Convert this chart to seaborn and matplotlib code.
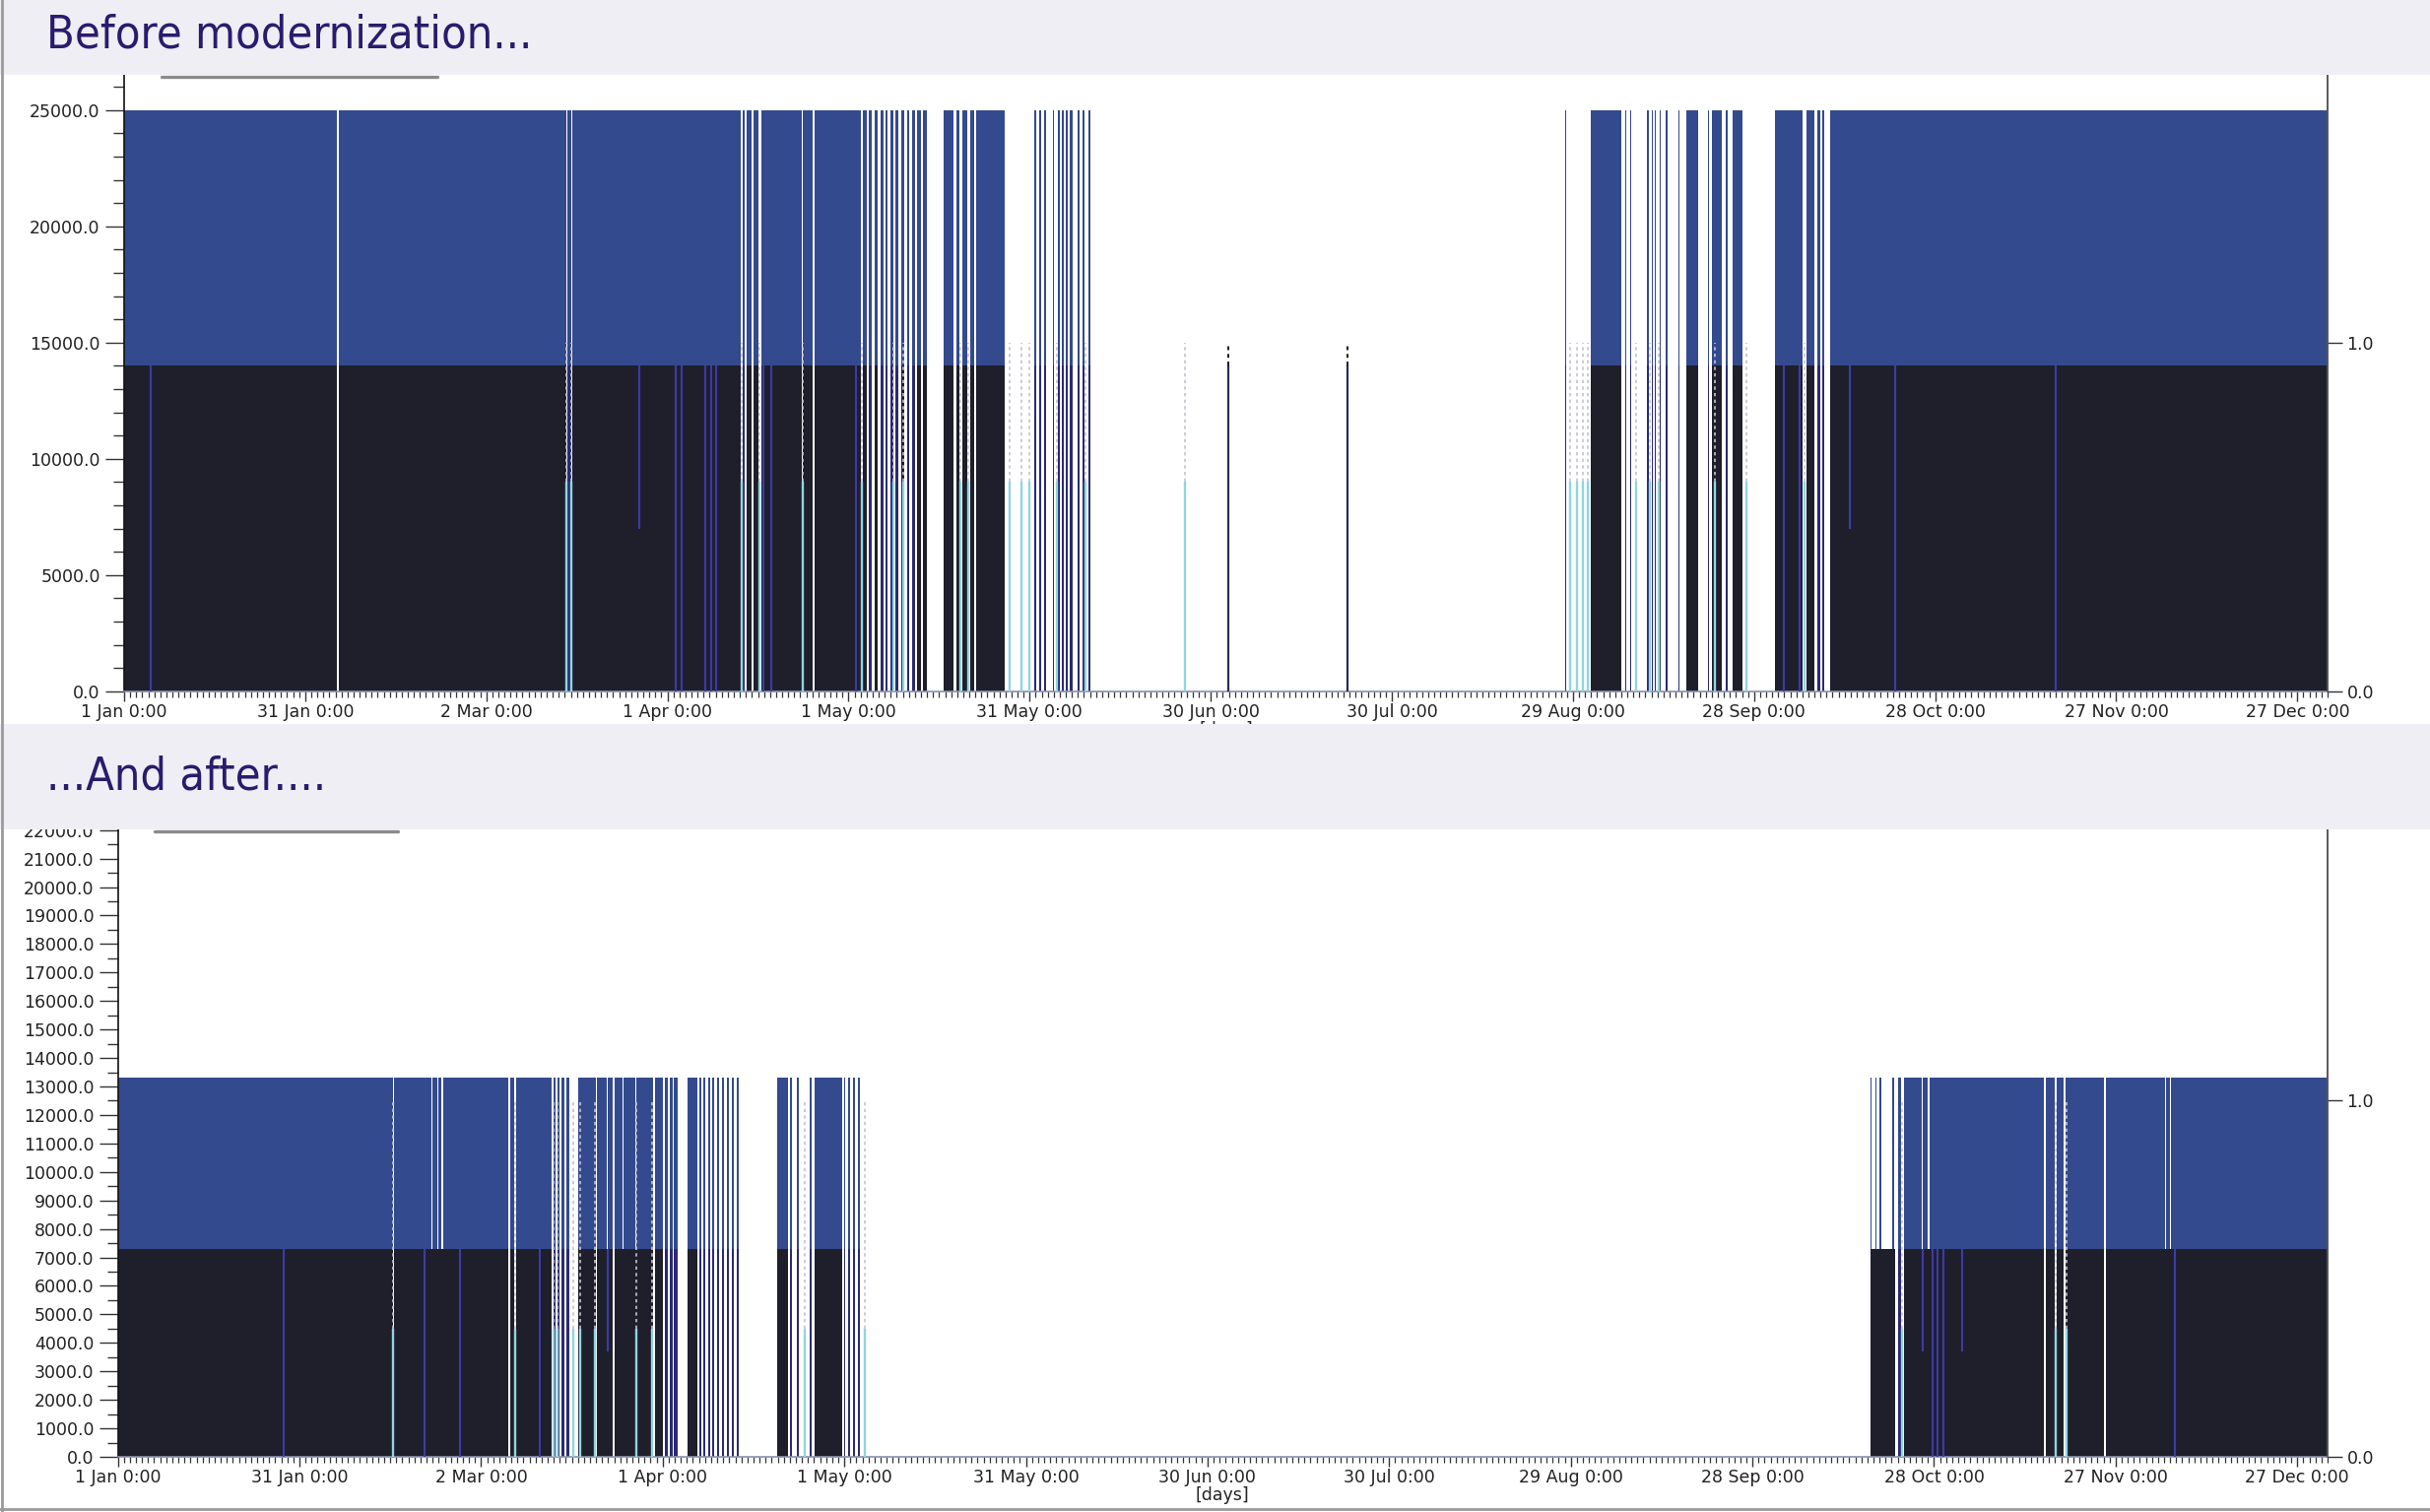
import matplotlib
matplotlib.use("Agg")
import matplotlib.pyplot as plt
import seaborn as sns
from matplotlib.patches import Rectangle
from matplotlib.lines import Line2D
from matplotlib.ticker import MultipleLocator, FixedLocator

# ---------------- data ----------------
month_days = [0, 30, 60, 90, 120, 150, 180, 210, 240, 270, 300, 330, 360]
month_labels = ["1 Jan 0:00", "31 Jan 0:00", "2 Mar 0:00", "1 Apr 0:00", "1 May 0:00",
                "31 May 0:00", "30 Jun 0:00", "30 Jul 0:00", "29 Aug 0:00", "28 Sep 0:00",
                "28 Oct 0:00", "27 Nov 0:00", "27 Dec 0:00"]

titles = ["Before modernization...", "...And after...."]

# "Before" panel: base load level, full load level, operating periods (days)
before_base = 14000
before_top = 25000
before_on = [
    (0.0, 35.25), (35.55, 73.2), (73.45, 74.0), (74.3, 102.2),
    (102.45, 102.8), (103.1, 103.9), (104.2, 105.0), (105.6, 112.2),
    (112.5, 114.0), (114.4, 122.1),
    (122.4, 123.0), (123.4, 123.9), (124.3, 124.9), (125.3, 125.8), (126.2, 126.5),
    (126.9, 127.4), (127.8, 128.3), (128.7, 129.3), (129.7, 130.1), (130.5, 131.0),
    (131.4, 132.0), (132.4, 133.0),
    (135.7, 137.4), (137.8, 138.4), (138.8, 139.7), (140.1, 140.8), (141.2, 145.9),
    (150.8, 151.1), (151.6, 151.9), (152.4, 152.7), (153.8, 154.1), (154.7, 155.0),
    (155.3, 155.6), (156.0, 156.3), (156.6, 157.1), (157.9, 158.2), (158.8, 159.1),
    (159.7, 160.1),
    (238.65, 238.95), (242.9, 248.0), (248.6, 248.9), (249.4, 249.7), (252.3, 252.6),
    (253.0, 253.3), (253.5, 253.8), (254.3, 254.6), (255.3, 255.6), (257.4, 257.7),
    (258.8, 260.8), (262.3, 262.6), (263.0, 264.7), (265.3, 265.6), (266.5, 268.0),
    (273.5, 278.1), (278.7, 280.0), (280.5, 281.0), (281.3, 281.6), (282.6, 365.0),
]
before_top_cuts = []
before_base_only = [182.9, 202.7]
before_purple = [4.4, 91.3, 92.3, 96.3, 97.2, 98.1, 105.9, 107.2, 121.2,
                 274.9, 277.5, 293.4, 320.0]
before_purple_partial = [85.4, 285.9]
before_lightblue = [73.3, 74.15, 102.3, 105.3, 112.35, 122.25, 127.4, 129.0, 138.5,
                    139.9, 146.7, 148.6, 149.9, 154.5, 159.2, 175.8, 239.6, 240.6,
                    241.6, 242.4, 250.5, 252.8, 254.2, 263.5, 268.8, 278.4]

# "After" panel
after_base = 7300
after_top = 13300
after_on = [
    (0.0, 45.4), (45.6, 64.5), (64.75, 65.5), (65.75, 71.6),
    (71.95, 72.3), (72.65, 73.0), (73.35, 73.7), (74.05, 74.6),
    (76.0, 79.0), (79.2, 81.75), (82.0, 88.4),
    (88.7, 90.0), (90.35, 90.8), (91.1, 91.6), (91.9, 92.4),
    (94.1, 95.8), (96.1, 96.4), (96.7, 97.0), (97.5, 97.8), (98.2, 98.5), (99.0, 99.3),
    (99.8, 100.1), (100.6, 100.9), (101.4, 101.7), (102.2, 102.5),
    (108.9, 110.7), (111.0, 111.3), (112.2, 112.5), (114.3, 114.6), (115.1, 119.6),
    (119.9, 120.2), (120.6, 120.9), (121.4, 121.7), (122.2, 122.5),
    (289.5, 293.65), (294.1, 294.5), (295.1, 318.2), (318.45, 319.9), (320.3, 321.4),
    (321.7, 328.1), (328.35, 365.0),
]
after_top_cuts = [(51.8, 52.0), (52.7, 52.9), (53.5, 53.7), (80.8, 81.0), (83.4, 83.6),
                  (85.5, 85.7), (289.75, 290.3), (290.55, 291.05), (291.35, 293.05),
                  (293.35, 293.65), (297.9, 298.1), (299.0, 299.2), (338.1, 338.3),
                  (339.0, 339.2)]
after_base_only = []
after_purple = [27.4, 50.6, 56.5, 69.7, 299.7, 300.5, 301.6, 339.8]
after_purple_partial = [80.9, 298.2, 304.7]
after_lightblue = [45.5, 65.6, 71.9, 72.7, 75.2, 76.3, 78.8, 85.6, 88.2, 113.4, 123.4,
                   294.7, 320.1, 321.9]

# ---------------- style ----------------
W, H = 2467, 1535
DARK = "#1f1f2b"
PULSE_DARK = "#2b2a72"
BLUE = "#344a8e"
PURPLE = "#3d3aa8"
LIGHTBLUE = "#8fd5e0"
BANNER = "#eeeef4"
TITLE_COL = "#2b1b6e"
TXT = "#222222"
TICKFONT = ["DejaVu Sans"]
FS = 12.5

sns.set_theme(style="white")
plt.rcParams["font.family"] = ["DejaVu Sans", "Liberation Sans"]

fig = plt.figure(figsize=(W / 100, H / 100), dpi=100)
fig.patch.set_facecolor("white")


def fx(px):
    return px / W


def fy(py):
    return 1 - py / H


def draw_panel(rect, on, base, top, top_cuts, base_only, purple, purple_partial,
               lightblue, lb_height, lb_dot_top, pp_low, ymax, right_unit,
               y_major, y_minor):
    ax = fig.add_axes(rect)
    ax.set_facecolor("white")
    starts = [a for a, b in on]
    widths = [b - a for a, b in on]
    low_cols = [PULSE_DARK if w < 0.55 else DARK for w in widths]
    ax.bar(starts, [base] * len(on), width=widths, align="edge", color=low_cols,
           linewidth=0, zorder=2)
    ax.bar(starts, [top - base] * len(on), width=widths, bottom=base, align="edge",
           color=BLUE, linewidth=0, zorder=2)
    if top_cuts:
        ax.bar([a for a, b in top_cuts], [top - base] * len(top_cuts),
               width=[b - a for a, b in top_cuts], bottom=base, align="edge",
               color="white", linewidth=0, zorder=3)
    # partial-load markers
    ax.vlines(lightblue, 0, lb_height, colors=LIGHTBLUE, linewidth=1.7, zorder=4)
    ax.vlines(lightblue, lb_height, lb_dot_top, colors="#c4c4ce", linewidth=1.2,
              linestyles=(0, (2, 2)), zorder=4)
    ax.vlines(purple, 0, base, colors=PURPLE, linewidth=1.5, zorder=4)
    ax.vlines(purple_partial, pp_low, base, colors=PURPLE, linewidth=1.5, zorder=4)
    if base_only:
        ax.vlines(base_only, 0, base, colors="#2b2a5a", linewidth=1.6, zorder=4)
        ax.vlines(base_only, base, right_unit, colors="#111111", linewidth=1.4,
                  linestyles=(0, (2, 2)), zorder=4)

    ax.set_xlim(0, 365)
    ax.set_ylim(0, ymax)
    ax.xaxis.set_major_locator(FixedLocator(month_days))
    ax.set_xticklabels(month_labels, family=TICKFONT)
    ax.xaxis.set_minor_locator(MultipleLocator(1))
    ax.yaxis.set_major_locator(MultipleLocator(y_major))
    ax.yaxis.set_minor_locator(MultipleLocator(y_minor))
    ax.yaxis.set_major_formatter(matplotlib.ticker.FuncFormatter(lambda v, p: f"{v:.1f}"))
    ax.tick_params(axis="x", which="major", direction="out", length=7, width=1.0,
                   color="#333333", labelsize=FS, labelcolor=TXT, pad=1.5, bottom=True)
    ax.tick_params(axis="x", which="minor", direction="out", length=4.5, width=0.9,
                   color="#333333", bottom=True)
    ax.tick_params(axis="y", which="major", direction="out", length=14, width=1.0,
                   color="#333333", labelsize=FS, labelcolor=TXT, pad=3.5, left=True)
    ax.tick_params(axis="y", which="minor", direction="out", length=8, width=1.0,
                   color="#333333", left=True)
    ax.spines["top"].set_visible(False)
    ax.spines["left"].set_color("#111111")
    ax.spines["left"].set_linewidth(1.2)
    ax.spines["right"].set_color("#555555")
    ax.spines["right"].set_linewidth(1.1)
    ax.spines["bottom"].set_color("#8a8fb0")
    ax.spines["bottom"].set_linewidth(1.2)
    ax.grid(False)
    ax.set_xlabel("[days]", fontsize=FS, color=TXT, labelpad=0)

    ax2 = ax.twinx()
    ax2.set_ylim(0, ymax / right_unit)
    ax2.set_yticks([0, 1])
    ax2.set_yticklabels(["0.0", "1.0"])
    ax2.tick_params(axis="y", direction="out", length=11, width=1.0, color="#333333",
                    labelsize=FS, labelcolor=TXT, pad=3, right=True)
    for s in ["top", "left", "bottom"]:
        ax2.spines[s].set_visible(False)
    ax2.spines["right"].set_color("#555555")
    ax2.spines["right"].set_linewidth(1.1)
    ax2.grid(False)
    return ax


# top panel geometry (pixels)
top_left, top_right, top_y0, top_ytop = 126, 2363, 701.7, 76
top_ymax = (top_y0 - top_ytop) / ((top_y0 - 111.7) / before_top)
draw_panel([fx(top_left), fy(top_y0), fx(top_right - top_left), (top_y0 - top_ytop) / H],
           before_on, before_base, before_top, before_top_cuts, before_base_only,
           before_purple, before_purple_partial, before_lightblue, 9000, 15000, 7000,
           top_ymax, 15000, 5000, 1000)

bot_left, bot_right, bot_y0, bot_ytop = 119.6, 2363, 1479, 842
bot_scale = (bot_y0 - 842.7) / 22000
bot_ymax = (bot_y0 - bot_ytop) / bot_scale
draw_panel([fx(bot_left), fy(bot_y0), fx(bot_right - bot_left), (bot_y0 - bot_ytop) / H],
           after_on, after_base, after_top, after_top_cuts, after_base_only,
           after_purple, after_purple_partial, after_lightblue, 4500, 12500, 3700,
           bot_ymax, 12518, 1000, 500)

# banners with titles (title size fitted to the reference text width)
renderer = fig.canvas.get_renderer()
title_family = ["DejaVu Sans", "Liberation Sans"]
probe = fig.text(0, 0, titles[0], fontsize=40, family=title_family,
                 fontstretch="condensed")
probe_w = probe.get_window_extent(renderer).width
probe.remove()
title_fs = 40 * 492 / probe_w

for (y0, y1), title in zip([(0, 76), (735, 842)], titles):
    fig.add_artist(Rectangle((0, fy(y1)), 1, (y1 - y0) / H, transform=fig.transFigure,
                             facecolor=BANNER, edgecolor="none", zorder=10))
    fig.text(fx(47), fy((y0 + y1) / 2 - (2 if y0 == 0 else 0)), title, ha="left",
             va="center", fontsize=title_fs, color=TITLE_COL, zorder=11,
             family=title_family, fontstretch="condensed")

# legend remnants (grey bars under banners)
fig.add_artist(Line2D([fx(164), fx(444)], [fy(78), fy(78)], transform=fig.transFigure,
                      color="#8a8a8a", linewidth=2.4, zorder=12))
fig.add_artist(Line2D([fx(157), fx(404)], [fy(844), fy(844)], transform=fig.transFigure,
                      color="#8a8a8a", linewidth=2.4, zorder=12))
# screenshot frame
fig.add_artist(Line2D([fx(1.5), fx(1.5)], [0, 1], transform=fig.transFigure,
                      color="#9a9a9a", linewidth=2, zorder=12))
fig.add_artist(Line2D([0, 1], [fy(1532), fy(1532)], transform=fig.transFigure,
                      color="#9a9a9a", linewidth=2, zorder=12))

fig.savefig("out.png", dpi=100, facecolor="white")
